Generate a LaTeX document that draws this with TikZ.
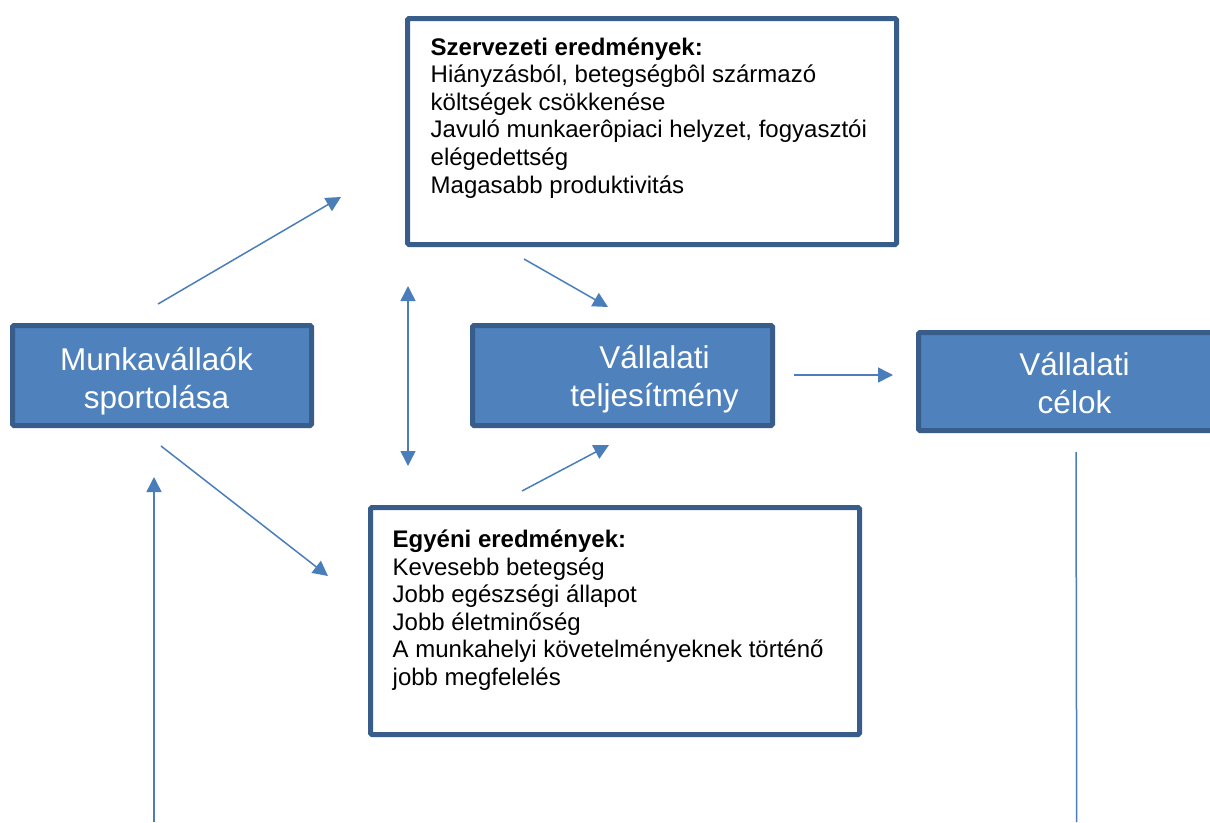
\documentclass[tikz,border=0pt]{standalone}
\usepackage{fontspec}
\setmainfont{Liberation Sans}
\usetikzlibrary{arrows.meta}
\definecolor{boxfill}{HTML}{4F81BD}
\definecolor{boxline}{HTML}{385D8A}
\definecolor{arr}{HTML}{4A7EBB}
\tikzset{
  bluebox/.style={draw=boxline, fill=boxfill, line width=5pt, rounded corners=1.5pt, inner sep=0pt},
  whitebox/.style={draw=boxline, fill=white, line width=5pt, rounded corners=1.5pt, inner sep=0pt},
  bodytext/.style={anchor=base west, inner sep=0pt, font=\fontsize{24}{27.6}\selectfont, text=black},
  bluetext/.style={anchor=base, inner sep=0pt, font=\fontsize{31.5}{38}\selectfont, text=white},
  conn/.style={draw=arr, line width=1.5pt, -{Triangle[length=15pt,width=15pt]}},
  bothconn/.style={draw=arr, line width=1.5pt, {Triangle[length=15pt,width=15pt]}-{Triangle[length=15pt,width=15pt]}},
  plainconn/.style={draw=arr, line width=1.5pt},
}
\begin{document}
\begin{tikzpicture}[x=1pt,y=-1pt]
\useasboundingbox (0,0) rectangle (1210,822);
\fill[white] (0,0) rectangle (1210,822);

% boxes
\node[whitebox, minimum width=489pt, minimum height=226pt] (szerv) at (652,131.5) {};
\node[whitebox, minimum width=489pt, minimum height=227pt] (egyeni) at (615,621) {};
\node[bluebox, minimum width=299pt, minimum height=100pt] (munka) at (162,375.5) {};
\node[bluebox, minimum width=300pt, minimum height=100pt] (telj) at (622.5,375.5) {};
\begin{scope}
  \clip (0,0) rectangle (1210,822);
  \node[bluebox, minimum width=300pt, minimum height=98pt] (celok) at (1068.5,381.5) {};
\end{scope}

% texts
\node[bodytext] (szervtext) at (430.5,55) {\vtop{%
  \hbox{\textbf{Szervezeti eredmények:}}%
  \hbox{Hiányzásból, betegségbôl származó}%
  \hbox{költségek csökkenése}%
  \hbox{Javuló munkaerôpiaci helyzet, fogyasztói}%
  \hbox{elégedettség}%
  \hbox{Magasabb produktivitás}}};
\node[bodytext] (egyenitext) at (392.5,547.5) {\vtop{%
  \hbox{\textbf{Egyéni eredmények:}}%
  \hbox{Kevesebb betegség}%
  \hbox{Jobb egészségi állapot}%
  \hbox{Jobb életminőség}%
  \hbox{A munkahelyi követelményeknek történő}%
  \hbox{jobb megfelelés}}};
\node[bluetext] (munkatext) at (156.5,370) {\vtop{\halign{\hfil#\hfil\cr Munkavállaók\cr sportolása\cr}}};
\node[bluetext] (teljtext) at (654.5,368) {\vtop{\halign{\hfil#\hfil\cr Vállalati\cr teljesítmény\cr}}};
\node[bluetext] (celoktext) at (1074.5,375) {\vtop{\halign{\hfil#\hfil\cr Vállalati\cr célok\cr}}};

% connector end points
\coordinate (a1s) at (158,304);  \coordinate (a1e) at (341,197);
\coordinate (a2s) at (524,259);  \coordinate (a2e) at (608,307);
\coordinate (a3s) at (408,286);  \coordinate (a3e) at (408,466);
\coordinate (a4s) at (522,491);  \coordinate (a4e) at (609,445);
\coordinate (a5s) at (161,446);  \coordinate (a5e) at (328,576);
\coordinate (a6s) at (794,375);  \coordinate (a6e) at (893,375);
\coordinate (a7s) at (154,822);  \coordinate (a7e) at (154,477);
\coordinate (a8s) at (1076,452); \coordinate (a8e) at (1076.7,822);

\draw[conn] (a1s) -- (a1e);
\draw[conn] (a2s) -- (a2e);
\draw[bothconn] (a3s) -- (a3e);
\draw[conn] (a4s) -- (a4e);
\draw[conn] (a5s) -- (a5e);
\draw[conn] (a6s) -- (a6e);
\draw[conn] (a7s) -- (a7e);
\draw[plainconn] (a8s) -- (a8e);
\end{tikzpicture}
\end{document}
